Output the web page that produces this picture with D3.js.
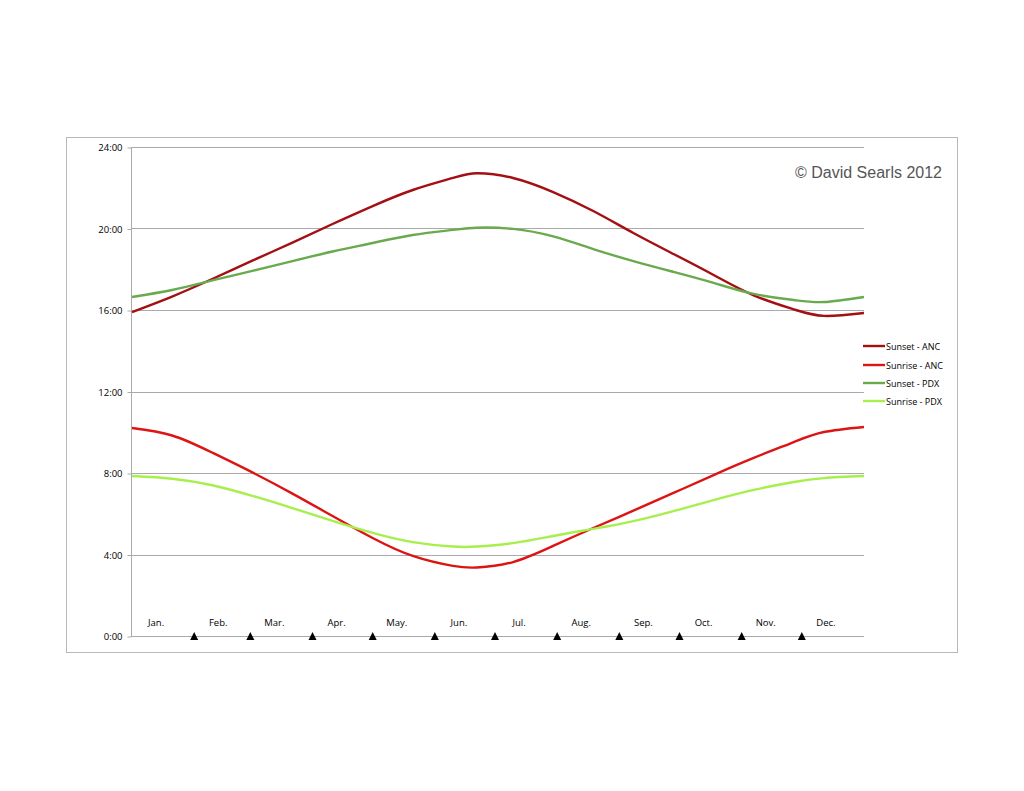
<!DOCTYPE html>
<html>
<head>
<meta charset="utf-8">
<script src="https://cdn.jsdelivr.net/npm/d3@7"></script>
<style>
html,body{margin:0;padding:0;background:#fff;}
svg{display:block;}
</style>
</head>
<body>
<svg id="chart" width="1024" height="791"></svg>
<script>
// Day of year for each sample
const days = [0, 20, 40, 60, 80, 100, 120, 140, 160, 172, 190, 210, 230, 250, 270, 290, 310, 330, 345, 365];
// Hours (decimal)
const sunsetANC  = [15.90, 16.66, 17.52, 18.42, 19.31, 20.22, 21.10, 21.89, 22.48, 22.71, 22.48, 21.79, 20.86, 19.78, 18.75, 17.72, 16.72, 16.03, 15.71, 15.85];
const sunriseANC = [10.21, 9.84, 9.00, 8.03, 6.99, 5.89, 4.81, 3.93, 3.44, 3.36, 3.63, 4.42, 5.30, 6.15, 7.02, 7.90, 8.74, 9.52, 10.01, 10.26];
const sunsetPDX  = [16.64, 16.98, 17.45, 17.92, 18.40, 18.87, 19.29, 19.68, 19.93, 20.04, 19.98, 19.61, 18.99, 18.40, 17.87, 17.33, 16.79, 16.49, 16.39, 16.64];
const sunrisePDX = [7.85, 7.72, 7.40, 6.88, 6.28, 5.65, 5.06, 4.61, 4.39, 4.39, 4.56, 4.91, 5.26, 5.64, 6.13, 6.67, 7.17, 7.56, 7.75, 7.85];

const seriesNames = ["Sunset - ANC", "Sunrise - ANC", "Sunset - PDX", "Sunrise - PDX"];
const seriesColors = ["#a30f12", "#dc1414", "#6aaa4e", "#a6ef4c"];

const months = ["Jan.", "Feb.", "Mar.", "Apr.", "May.", "Jun.", "Jul.", "Aug.", "Sep.", "Oct.", "Nov.", "Dec."];
const monthStarts = [0, 31, 59, 90, 120, 151, 181, 212, 243, 273, 304, 334];
const yTicks = [0, 4, 8, 12, 16, 20, 24];

const svg = d3.select("#chart");
const font = "'Open Sans', 'Liberation Sans', sans-serif";

// outer frame
svg.append("rect").attr("x", 66.5).attr("y", 137.5).attr("width", 891).attr("height", 515)
  .attr("fill", "none").attr("stroke", "#b8b8b8").attr("stroke-width", 1);

const x = d3.scaleLinear().domain([0, 365]).range([132, 864]);
const y = d3.scaleLinear().domain([0, 24]).range([636, 147]);

// gridlines
svg.append("g").selectAll("line").data(yTicks).join("line")
  .attr("x1", 131).attr("x2", 864)
  .attr("y1", d => Math.round(y(d)) + 0.5).attr("y2", d => Math.round(y(d)) + 0.5)
  .attr("stroke", "#aaaaaa").attr("stroke-width", 1);

// y axis
const yAxis = d3.axisLeft(y).tickValues(yTicks).tickFormat(d => d + ":00").tickSize(4).tickPadding(5);
const gy = svg.append("g").attr("transform", "translate(131.5,0.5)").call(yAxis);
gy.select(".domain").attr("stroke", "#aaaaaa").attr("d", "M0," + y(24) + "V" + y(0));
gy.selectAll(".tick line").attr("stroke", "#aaaaaa");
gy.selectAll(".tick text").attr("font-family", font).attr("font-size", "9.5px").attr("fill", "#000");

// month labels
svg.append("g").selectAll("text").data(months).join("text")
  .attr("x", (d, i) => x(monthStarts[i] + 12))
  .attr("y", 626)
  .attr("text-anchor", "middle")
  .attr("font-family", font).attr("font-size", "9.5px").attr("fill", "#000")
  .text(d => d);

// triangles at month boundaries
svg.append("g").selectAll("path").data(monthStarts.slice(1)).join("path")
  .attr("d", d => {
    const cx = x(d);
    return `M${cx - 4},640 L${cx + 4},640 L${cx},632 Z`;
  })
  .attr("fill", "#000");

// lines
const allSeries = [sunsetANC, sunriseANC, sunsetPDX, sunrisePDX];
const line = d3.line()
  .x((d, i) => x(days[i]))
  .y(d => y(d))
  .curve(d3.curveNatural);

svg.append("g").selectAll("path").data(allSeries).join("path")
  .attr("d", d => line(d))
  .attr("fill", "none")
  .attr("stroke", (d, i) => seriesColors[i])
  .attr("stroke-width", 2.4)
  .attr("stroke-linejoin", "round");

// legend
const legend = svg.append("g");
const legendY = [346, 365, 383, 401];
seriesNames.forEach((name, i) => {
  legend.append("line").attr("x1", 863).attr("x2", 885)
    .attr("y1", legendY[i]).attr("y2", legendY[i])
    .attr("stroke", seriesColors[i]).attr("stroke-width", 2.4);
  legend.append("text").attr("x", 886).attr("y", legendY[i] + 3.5)
    .attr("font-family", font).attr("font-size", "9px").attr("fill", "#000")
    .text(name);
});

// copyright
svg.append("text").attr("x", 942).attr("y", 178)
  .attr("text-anchor", "end")
  .attr("font-family", "'Liberation Sans', Arial, sans-serif")
  .attr("font-size", "16px").attr("fill", "#555")
  .text("© David Searls 2012");
</script>
</body>
</html>
